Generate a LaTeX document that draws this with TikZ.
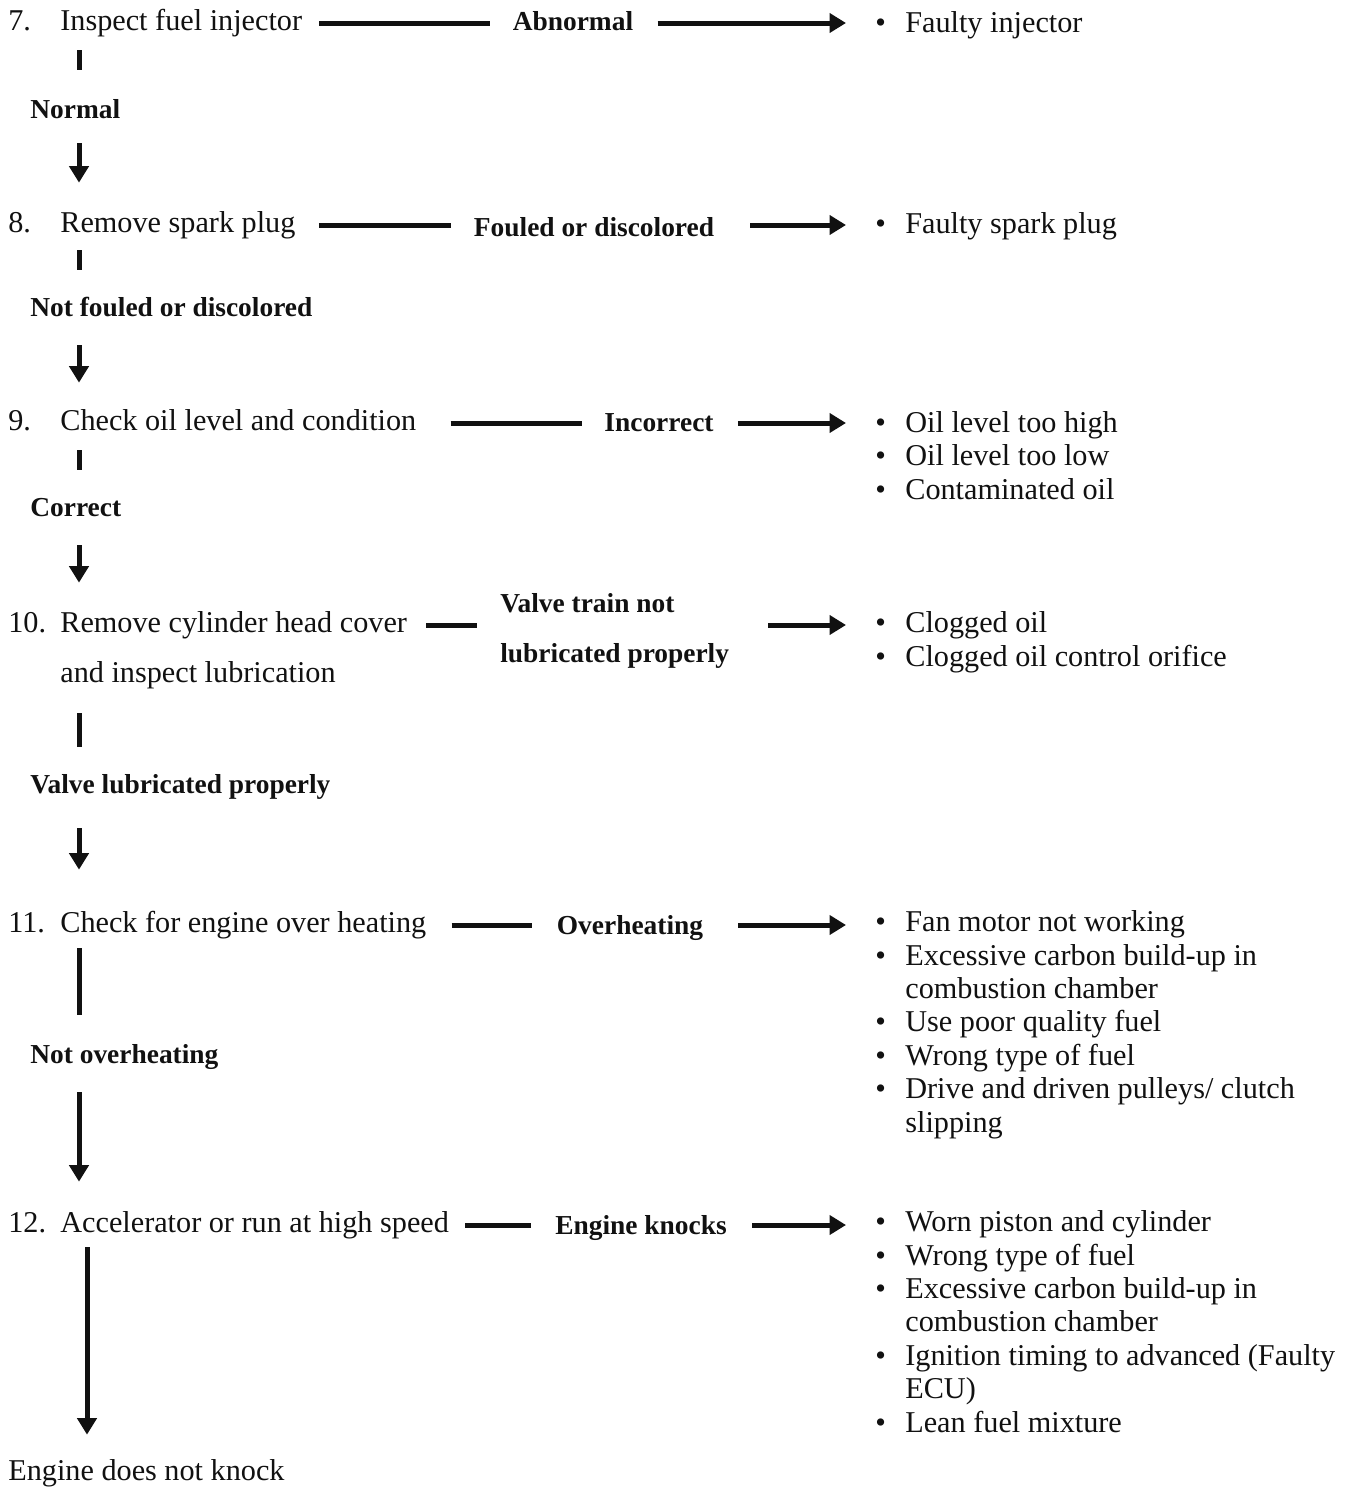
\documentclass[tikz,border=0pt]{standalone}
\usepackage{fontspec}
\setmainfont{Liberation Serif}
\usepackage{tikz}
\usetikzlibrary{arrows.meta}
\definecolor{ink}{HTML}{111111}
\newcommand{\stepfont}{\fontsize{17.2pt}{19pt}\selectfont}
\newcommand{\labfont}{\fontsize{15.6pt}{19pt}\selectfont\bfseries}
\newcommand{\itm}{\makebox[6mm][l]{\textbullet}}
\newcommand{\cnt}{\hspace*{6mm}}
\tikzset{
  txt/.style={inner sep=0pt, text=ink, anchor=base west, font=\stepfont},
  one/.style={text height=4.2mm, text depth=1.4mm},
  stepT/.style={txt, one},
  outT/.style={txt, one, font=\labfont},
  labT/.style={txt, anchor=base, font=\labfont},
  resT/.style={txt, align=left},
  bar/.style={draw=ink, line width=1mm},
  arr/.style={bar, -{Triangle[length=3.3mm,width=3.8mm]}}
}

\begin{document}
\begin{tikzpicture}[x=0.2mm,y=-0.2mm]
  \useasboundingbox[fill=white] (0,0) rectangle (1355,1487);
  \coordinate (col) at (79,0);
  \coordinate (colB) at (87,0);

  % steps down the left side
  \node[stepT] (n7) at (8,30) {7.};
  \node[stepT] (s7) at (60,30) {Inspect fuel injector};
  \node[outT] (o7) at (30,118) {Normal};
  \node[stepT] (n8) at (8,232) {8.};
  \node[stepT] (s8) at (60,232) {Remove spark plug};
  \node[outT] (o8) at (30,316) {Not fouled or discolored};
  \node[stepT] (n9) at (8,430) {9.};
  \node[stepT] (s9) at (60,430) {Check oil level and condition};
  \node[outT] (o9) at (30,516) {Correct};
  \node[stepT] (n10) at (8,632) {10.};
  \node[stepT] (s10) at (60,632) {Remove cylinder head cover};
  \node[stepT] (s10b) at (60,682) {and inspect lubrication};
  \node[outT] (o10) at (30,793) {Valve lubricated properly};
  \node[stepT] (n11) at (8,932) {11.};
  \node[stepT] (s11) at (60,932) {Check for engine over heating};
  \node[outT] (o11) at (30,1063) {Not overheating};
  \node[stepT] (n12) at (8,1232) {12.};
  \node[stepT] (s12) at (60,1232) {Accelerator or run at high speed};
  \node[stepT] (fin) at (8,1480) {Engine does not knock};

  % branch labels
  \node[labT] (l7) at (573,30) {Abnormal};
  \node[labT] (l8) at (594,236) {Fouled or discolored};
  \node[labT] (l9) at (659,431) {Incorrect};
  \node[labT, anchor=base west, align=left] (l10) at (500,662) {Valve train not\\[8.9pt]lubricated properly};
  \node[labT] (l11) at (630,934) {Overheating};
  \node[labT] (l12) at (641,1234) {Engine knocks};

  % possible faults (multi-line nodes sit on their last line)
  \node[resT] (r7) at (875,32) {\itm Faulty injector};
  \node[resT] (r8) at (875,233) {\itm Faulty spark plug};
  \node[resT] (r9) at (875,499) {\itm Oil level too high\\\itm Oil level too low\\\itm Contaminated oil};
  \node[resT] (r10) at (875,666) {\itm Clogged oil\\\itm Clogged oil control orifice};
  \node[resT] (r11) at (875,1132) {\itm Fan motor not working\\\itm Excessive carbon build-up in\\\cnt combustion chamber\\\itm Use poor quality fuel\\\itm Wrong type of fuel\\\itm Drive and driven pulleys/ clutch\\\cnt slipping};
  \node[resT] (r12) at (875,1432) {\itm Worn piston and cylinder\\\itm Wrong type of fuel\\\itm Excessive carbon build-up in\\\cnt combustion chamber\\\itm Ignition timing to advanced (Faulty\\\cnt ECU)\\\itm Lean fuel mixture};

  % across
  \draw[bar, shorten <=3.4mm, shorten >=4.4mm] (s7.east) -- (l7.west |- s7.east);
  \draw[arr, shorten <=4.8mm, shorten >=5.8mm] (l7.east |- s7.east) -- (r7.west |- s7.east);
  \draw[bar, shorten <=4.6mm, shorten >=4.6mm] (s8.east) -- (l8.west |- s8.east);
  \draw[arr, shorten <=7.2mm, shorten >=5.8mm] (l8.east |- s8.east) -- (r8.west |- s8.east);
  \draw[bar, shorten <=6.8mm, shorten >=4.4mm] (s9.east) -- (l9.west |- s9.east);
  \draw[arr, shorten <=4.8mm, shorten >=5.8mm] (l9.east |- s9.east) -- (r9.west |- s9.east);
  \draw[bar, shorten <=3.8mm, shorten >=4.6mm] (s10.east) -- (l10.west |- s10.east);
  \draw[arr, shorten <=7.8mm, shorten >=5.8mm] (l10.east |- s10.east) -- (r10.west |- s10.east);
  \draw[bar, shorten <=5mm, shorten >=5mm] (s11.east) -- (l11.west |- s11.east);
  \draw[arr, shorten <=7mm, shorten >=5.8mm] (l11.east |- s11.east) -- (r11.west |- s11.east);
  \draw[bar, shorten <=3.2mm, shorten >=4.8mm] (s12.east) -- (l12.west |- s12.east);
  \draw[arr, shorten <=5mm, shorten >=5.8mm] (l12.east |- s12.east) -- (r12.west |- s12.east);

  % down
  \draw[bar, shorten <=2.6mm, shorten >=5.4mm] (s7.south -| col) -- (o7.north -| col);
  \draw[arr, shorten <=3.6mm, shorten >=5.6mm] (o7.south -| col) -- (s8.north -| col);
  \draw[bar, shorten <=2.2mm, shorten >=5mm] (s8.south -| col) -- (o8.north -| col);
  \draw[arr, shorten <=4.4mm, shorten >=5.2mm] (o8.south -| col) -- (s9.north -| col);
  \draw[bar, shorten <=2.6mm, shorten >=5mm] (s9.south -| col) -- (o9.north -| col);
  \draw[arr, shorten <=4.4mm, shorten >=5.6mm] (o9.south -| col) -- (s10.north -| col);
  \draw[bar, shorten <=4.8mm, shorten >=5mm] (s10b.south -| col) -- (o10.north -| col);
  \draw[arr, shorten <=5.6mm, shorten >=8.2mm] (o10.south -| col) -- (s11.north -| col);
  \draw[bar, shorten <=1.8mm, shorten >=5.4mm] (s11.south -| col) -- (o11.north -| col);
  \draw[arr, shorten <=4.4mm, shorten >=5.8mm] (o11.south -| col) -- (s12.north -| col);
  \draw[arr, shorten <=1.6mm, shorten >=4.8mm] (s12.south -| colB) -- (fin.north -| colB);
\end{tikzpicture}
\end{document}
